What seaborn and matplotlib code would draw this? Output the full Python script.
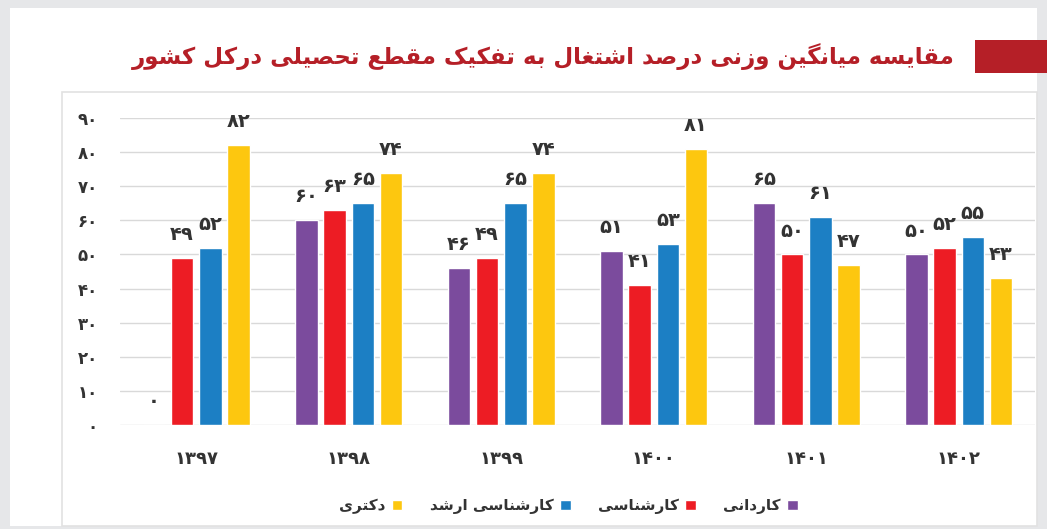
import matplotlib
matplotlib.use("Agg")
import matplotlib.pyplot as plt
import pandas as pd
import seaborn as sns
from matplotlib.patches import Rectangle

# ---- data ----
years = ["1397", "1398", "1399", "1400", "1401", "1402"]
kardani = [0, 60, 46, 51, 65, 50]
karshenasi = [49, 63, 49, 41, 50, 52]
arshad = [52, 65, 65, 53, 61, 55]
doktori = [82, 74, 74, 81, 47, 43]

levels = ["کاردانی", "کارشناسی", "کارشناسی ارشد", "دکتری"]
colors = ["#7b4b9d", "#ed1c24", "#1c7fc4", "#fdc70f"]
title = "مقایسه میانگین وزنی درصد اشتغال به تفکیک مقطع تحصیلی درکل کشور"

# ---- minimal Persian shaping (no raqm in matplotlib) ----
FORMS = {
    "ا": (0xFE8D, 0xFE8E), "د": (0xFEA9, 0xFEAA), "ذ": (0xFEAB, 0xFEAC),
    "ر": (0xFEAD, 0xFEAE), "ز": (0xFEAF, 0xFEB0), "ژ": (0xFB8A, 0xFB8B),
    "و": (0xFEED, 0xFEEE),
    "ب": 0xFE8F, "ت": 0xFE95, "ث": 0xFE99, "ج": 0xFE9D, "ح": 0xFEA1,
    "خ": 0xFEA5, "س": 0xFEB1, "ش": 0xFEB5, "ص": 0xFEB9, "ض": 0xFEBD,
    "ط": 0xFEC1, "ظ": 0xFEC5, "ع": 0xFEC9, "غ": 0xFECD, "ف": 0xFED1,
    "ق": 0xFED5, "ل": 0xFEDD, "م": 0xFEE1, "ن": 0xFEE5, "ه": 0xFEE9,
    "پ": 0xFB56, "چ": 0xFB7A, "ک": 0xFB8E, "گ": 0xFB92, "ی": 0xFBFC,
}


def dual(c):
    return c in FORMS and not isinstance(FORMS[c], tuple)


def shape(text):
    out = []
    for i, c in enumerate(text):
        if c not in FORMS:
            out.append(c)
            continue
        prev = text[i - 1] if i > 0 else ""
        nxt = text[i + 1] if i + 1 < len(text) else ""
        jp = dual(prev)
        jn = dual(c) and nxt in FORMS
        f = FORMS[c]
        if isinstance(f, tuple):
            out.append(chr(f[1] if jp else f[0]))
        else:
            off = 3 if (jp and jn) else 1 if jp else 2 if jn else 0
            out.append(chr(f + off))
    return "".join(out)[::-1]


def fa(n):
    return str(n).translate(str.maketrans("0123456789", "۰۱۲۳۴۵۶۷۸۹"))


df = pd.DataFrame({
    "year": years * 4,
    "level": [lv for lv in levels for _ in years],
    "value": kardani + karshenasi + arshad + doktori,
})
df["year"] = df["year"].map(fa)
df["level"] = df["level"].map(shape)

sns.set_style("white")
plt.rcParams["font.family"] = ["DejaVu Sans"]

fig = plt.figure(figsize=(10.47, 5.29), dpi=100)
fig.patch.set_facecolor("#e6e7e9")

# white card, chart frame, red tab
fig.patches.append(Rectangle((10 / 1047, 1 - 526 / 529), 1027 / 1047, 518 / 529,
                             transform=fig.transFigure, facecolor="white",
                             edgecolor="none", zorder=-2))
fig.patches.append(Rectangle((62 / 1047, 1 - 526 / 529), 975 / 1047, 434 / 529,
                             transform=fig.transFigure, facecolor="white",
                             edgecolor="#e2e2e2", lw=1.2, zorder=-1))
fig.patches.append(Rectangle((975 / 1047, 1 - 73 / 529), 72 / 1047, 33 / 529,
                             transform=fig.transFigure, facecolor="#b51f27",
                             edgecolor="none"))
fig.text(955 / 1047, 1 - 57 / 529, shape(title), ha="right", va="center",
         fontsize=16.5, fontweight="bold", color="#b51f27")

ax = fig.add_axes([120 / 1047, 1 - 425 / 529, 915 / 1047, 307 / 529])
sns.barplot(data=df, x="year", y="value", hue="level",
            palette=colors, width=0.74, gap=0.2, saturation=1, ax=ax,
            legend=True)

for cont in ax.containers:
    vals = [int(b.get_height()) for b in cont]
    ax.bar_label(cont, labels=[fa(v) for v in vals], padding=10,
                 fontsize=14, fontweight="bold", color="#333333")

ax.set_ylim(0, 90)
ax.set_yticks(range(0, 91, 10))
ax.set_yticklabels([fa(v) for v in range(0, 91, 10)],
                   fontsize=12, fontweight="bold", color="#333333")
ax.tick_params(axis="y", length=0, pad=16)
ax.tick_params(axis="x", length=0, pad=18, labelsize=13, labelcolor="#333333")
for t in ax.get_xticklabels():
    t.set_fontweight("bold")
ax.yaxis.grid(True, color="#d9d9d9", lw=1)
ax.set_axisbelow(True)
for s in ax.spines.values():
    s.set_visible(False)
ax.set_xlabel("")
ax.set_ylabel("")

handles, labels = ax.get_legend_handles_labels()
ax.legend(handles[::-1], labels[::-1], loc="center",
          bbox_to_anchor=(0.49, -0.265), ncol=4, frameon=False,
          markerfirst=False, handlelength=0.7, handleheight=0.7,
          columnspacing=1.8, handletextpad=0.4,
          prop={"size": 11, "weight": "bold"}, labelcolor="#333333")

fig.savefig("out.png", dpi=100, facecolor=fig.get_facecolor())
